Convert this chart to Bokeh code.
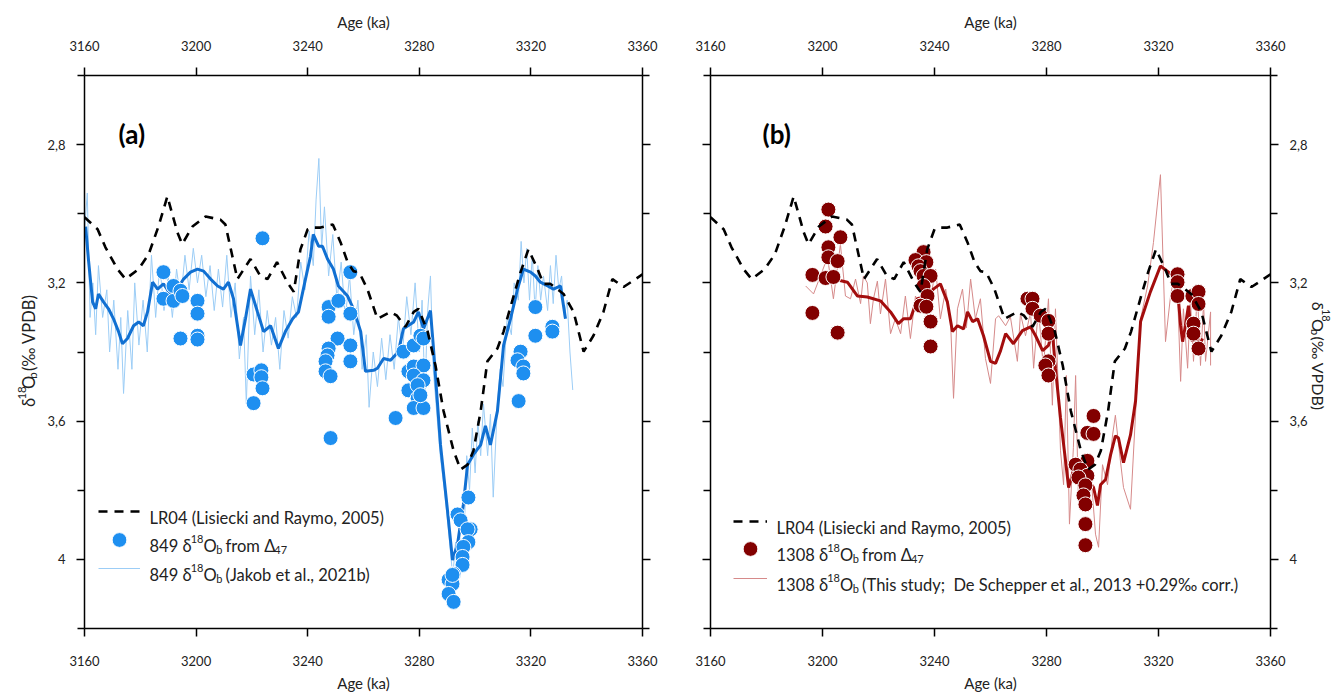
import math
from bokeh.plotting import figure
from bokeh.models import (Range1d, LinearAxis, FixedTicker, CustomJSTickFormatter,
                          Label, Legend, LegendItem)
from bokeh.layouts import row
from bokeh.embed import file_html
from bokeh.resources import INLINE

# ---------------- data ----------------
lr04_age = [3160.0, 3164.7, 3167.5, 3171.8, 3174.7, 3179.4, 3183.0, 3186.5, 3189.7, 3193.3,
            3195.0, 3198.7, 3203.4, 3208.7, 3210.5, 3213.0, 3214.8, 3219.5, 3223.0, 3225.6,
            3229.0, 3232.8, 3235.0, 3237.4, 3240.0, 3242.0, 3244.6, 3249.0, 3251.8, 3254.3,
            3256.4, 3258.5, 3261.4, 3265.0, 3269.7, 3272.0, 3275.0, 3278.0, 3279.7, 3283.0,
            3285.8, 3288.7, 3292.3, 3294.8, 3297.3, 3299.4, 3302.0, 3304.4, 3308.0, 3310.2,
            3313.8, 3316.3, 3319.1, 3322.4, 3324.5, 3327.0, 3331.7, 3335.3, 3338.9, 3342.4,
            3346.0, 3349.2, 3353.2, 3357.5, 3360.0]
lr04_d18o = [3.01, 3.045, 3.097, 3.16, 3.189, 3.16, 3.117, 3.037, 2.95, 3.054,
             3.088, 3.037, 3.008, 3.017, 3.031, 3.123, 3.189, 3.131, 3.18, 3.189,
             3.14, 3.2, 3.226, 3.103, 3.045, 3.04, 3.04, 3.031, 3.083, 3.14,
             3.166, 3.17, 3.218, 3.304, 3.284, 3.295, 3.327, 3.284, 3.275, 3.341,
             3.439, 3.571, 3.686, 3.74, 3.726, 3.686, 3.571, 3.427, 3.39, 3.341,
             3.238, 3.169, 3.103, 3.16, 3.203, 3.203, 3.232, 3.284, 3.399, 3.353,
             3.284, 3.189, 3.212, 3.189, 3.175]

# Site 849 benthic record (Jakob et al., 2021b), thin line
s849_age = [3160.0, 3161.0, 3162.0, 3163.0, 3164.0, 3165.0, 3166.5, 3168.0, 3169.0, 3170.5,
            3172.0, 3173.0, 3174.0, 3175.5, 3177.0, 3178.0, 3179.5, 3181.0, 3182.5, 3184.0,
            3185.5, 3187.0, 3188.5, 3190.0, 3191.5, 3193.0, 3194.5, 3196.0, 3197.5, 3199.0,
            3200.5, 3202.0, 3203.5, 3205.0, 3206.5, 3208.0, 3209.5, 3211.0, 3212.5, 3214.0,
            3215.5, 3217.0, 3218.0, 3219.5, 3221.0, 3222.5, 3224.0, 3225.5, 3227.0, 3228.5,
            3230.0, 3231.5, 3233.0, 3234.5, 3236.0, 3237.5, 3239.0, 3240.5, 3242.0, 3243.0,
            3244.0, 3245.0, 3246.0, 3247.5, 3249.0, 3250.5, 3252.0, 3253.5, 3255.0, 3256.5,
            3258.0, 3259.5, 3261.0, 3262.0, 3263.5, 3265.0, 3266.5, 3268.0, 3269.5, 3271.0,
            3272.5, 3274.0, 3275.5, 3277.0, 3278.5, 3280.0, 3281.0, 3282.0, 3283.0, 3284.0,
            3285.0, 3286.0, 3287.5, 3289.0, 3290.5, 3292.0, 3293.0, 3294.0, 3295.0, 3296.0,
            3297.0, 3298.0, 3299.0, 3300.0, 3301.0, 3302.0, 3303.0, 3304.5, 3305.5, 3306.5,
            3308.0, 3309.0, 3310.0, 3311.5, 3313.0, 3314.0, 3315.5, 3316.5, 3317.5, 3318.5,
            3319.5, 3320.5, 3321.5, 3322.5, 3323.5, 3324.5, 3326.0, 3327.0, 3328.0, 3329.0,
            3330.0, 3331.0, 3332.0, 3333.0, 3334.0, 3335.0]
s849_d18o = [3.05, 2.94, 3.30, 3.20, 3.35, 3.15, 3.30, 3.22, 3.40, 3.25,
             3.45, 3.30, 3.52, 3.28, 3.45, 3.20, 3.38, 3.25, 3.40, 3.12,
             3.30, 3.15, 3.28, 3.18, 3.30, 3.16, 3.25, 3.12, 3.22, 3.10,
             3.20, 3.12, 3.24, 3.15, 3.28, 3.16, 3.27, 3.12, 3.30, 3.20,
             3.42, 3.30, 3.55, 3.18, 3.35, 3.22, 3.40, 3.28, 3.38, 3.30,
             3.45, 3.28, 3.36, 3.24, 3.30, 3.14, 3.22, 3.05, 3.15, 2.96,
             2.84, 3.10, 2.98, 3.18, 3.06, 3.25, 3.14, 3.30, 3.18, 3.35,
             3.25, 3.45, 3.35, 3.56, 3.40, 3.50, 3.36, 3.48, 3.35, 3.45,
             3.30, 3.40, 3.24, 3.35, 3.20, 3.40, 3.25, 3.52, 3.28, 3.18,
             3.45, 3.55, 3.70, 3.80, 3.92, 4.05, 3.95, 4.05, 3.85, 3.95,
             3.70, 3.80, 3.62, 3.75, 3.60, 3.70, 3.55, 3.70, 3.58, 3.82,
             3.55, 3.45, 3.50, 3.30, 3.35, 3.20, 3.25, 3.08, 3.20, 3.10,
             3.25, 3.12, 3.28, 3.15, 3.25, 3.18, 3.28, 3.15, 3.26, 3.12,
             3.22, 3.18, 3.30, 3.25, 3.40, 3.51]

# Site 849 smoothed record, thick line
s849s_age = [3160.4, 3161.4, 3162.9, 3164.0, 3165.0, 3166.8, 3168.6, 3170.4, 3172.2, 3173.6,
             3175.4, 3177.6, 3179.4, 3181.1, 3182.6, 3184.4, 3186.2, 3188.3, 3190.8, 3193.3,
             3195.5, 3198.0, 3200.5, 3202.7, 3205.2, 3207.7, 3209.8, 3211.6, 3213.4, 3215.9,
             3217.7, 3219.5, 3222.0, 3224.2, 3226.7, 3229.5, 3232.0, 3234.6, 3236.7, 3239.2,
             3241.0, 3242.0, 3243.9, 3245.3, 3247.1, 3249.2, 3251.0, 3254.3, 3256.4, 3259.0,
             3260.7, 3263.6, 3265.0, 3267.2, 3269.7, 3272.5, 3274.3, 3278.0, 3279.7, 3281.5,
             3284.0, 3285.0, 3287.6, 3290.1, 3291.9, 3293.7, 3295.8, 3297.3, 3299.4, 3302.0,
             3303.7, 3305.5, 3308.0, 3310.2, 3312.7, 3315.2, 3317.3, 3319.9, 3321.6, 3323.4,
             3326.0, 3328.1, 3330.6, 3332.4]
s849s_d18o = [3.037, 3.131, 3.255, 3.275, 3.232, 3.255, 3.275, 3.304, 3.341, 3.376,
              3.361, 3.324, 3.313, 3.324, 3.284, 3.198, 3.218, 3.203, 3.232, 3.218,
              3.189, 3.169, 3.16, 3.166, 3.189, 3.209, 3.218, 3.198, 3.246, 3.381,
              3.304, 3.218, 3.284, 3.341, 3.324, 3.39, 3.341, 3.304, 3.284, 3.189,
              3.123, 3.06, 3.094, 3.094, 3.131, 3.16, 3.209, 3.238, 3.275, 3.341,
              3.456, 3.453, 3.447, 3.419, 3.424, 3.399, 3.333, 3.313, 3.284, 3.333,
              3.28, 3.381, 3.669, 3.858, 4.002, 3.956, 3.841, 3.726, 3.697, 3.669,
              3.614, 3.669, 3.571, 3.381, 3.304, 3.218, 3.16, 3.169, 3.18, 3.198,
              3.209, 3.218, 3.209, 3.304]

# Site 849 d18Ob from clumped isotopes (dots)
d849_age = [3188.3, 3188.3, 3191.9, 3191.9, 3194.4, 3195.1, 3194.4, 3200.5, 3200.5, 3200.5,
            3200.5, 3223.8, 3220.6, 3220.6, 3223.4, 3223.4, 3223.8, 3247.5, 3247.5, 3251.0,
            3250.7, 3247.5, 3247.1, 3246.4, 3246.4, 3248.2, 3255.3, 3255.3, 3255.3, 3255.3,
            3248.2, 3274.3, 3271.5, 3278.0, 3280.4, 3281.5, 3276.1, 3278.0, 3281.5, 3278.0,
            3281.5, 3276.1, 3279.4, 3279.4, 3278.0, 3281.5, 3280.4, 3297.6, 3293.7, 3294.8,
            3298.4, 3297.3, 3297.6, 3295.8, 3295.5, 3295.5, 3292.3, 3290.5, 3291.9, 3290.5,
            3292.3, 3291.9, 3316.3, 3315.2, 3317.3, 3317.3, 3315.6, 3321.6, 3321.6, 3327.7,
            3327.7]
d849_d18o = [3.169, 3.246, 3.209, 3.252, 3.223, 3.238, 3.361, 3.252, 3.289, 3.353,
             3.364, 3.071, 3.465, 3.548, 3.453, 3.473, 3.505, 3.27, 3.298, 3.252,
             3.361, 3.39, 3.41, 3.427, 3.456, 3.47, 3.169, 3.289, 3.381, 3.427,
             3.649, 3.399, 3.591, 3.381, 3.353, 3.361, 3.456, 3.442, 3.439, 3.468,
             3.482, 3.511, 3.496, 3.534, 3.562, 3.562, 3.525, 3.821, 3.87, 3.887,
             3.913, 3.913, 3.95, 3.964, 3.993, 4.016, 4.042, 4.059, 4.071, 4.10,
             4.123, 4.045, 3.399, 3.424, 3.442, 3.462, 3.542, 3.27, 3.353, 3.327,
             3.341]

# Site 1308 benthic record (thin line)
s1308_age = [3194.0, 3196.8, 3201.8, 3203.9, 3206.4, 3208.2, 3210.0, 3211.8, 3213.6, 3214.6,
             3216.0, 3217.1, 3218.2, 3219.6, 3220.7, 3222.5, 3224.3, 3226.0, 3227.9, 3229.6,
             3231.4, 3233.2, 3235.0, 3236.8, 3238.6, 3240.4, 3242.1, 3244.0, 3245.7, 3246.8,
             3248.2, 3250.0, 3251.4, 3252.9, 3254.6, 3256.4, 3258.2, 3260.0, 3261.8, 3262.9,
             3265.4, 3267.1, 3269.6, 3270.7, 3272.5, 3274.3, 3275.4, 3277.1, 3278.9, 3280.7,
             3282.1, 3283.2, 3285.0, 3286.1, 3287.1, 3288.2, 3289.6, 3290.4, 3291.4, 3292.9,
             3293.9, 3295.7, 3297.5, 3298.6, 3300.0, 3301.8, 3303.6, 3304.6, 3306.4, 3307.5,
             3310.0, 3313.6, 3316.1, 3318.2, 3320.7, 3322.5, 3324.3, 3325.4, 3326.8, 3327.9,
             3328.9, 3330.4, 3331.4, 3332.5, 3333.9, 3335.0, 3336.1, 3336.8, 3338.6, 3338.6]
s1308_d18o = [3.209, 3.232, 3.126, 3.246, 3.088, 3.238, 3.246, 3.189, 3.26, 3.18,
              3.20, 3.318, 3.246, 3.195, 3.29, 3.189, 3.347, 3.304, 3.347, 3.238,
              3.361, 3.238, 3.275, 3.218, 3.246, 3.16, 3.304, 3.218, 3.304, 3.534,
              3.275, 3.218, 3.33, 3.189, 3.304, 3.246, 3.419, 3.491, 3.304, 3.295,
              3.324, 3.298, 3.427, 3.289, 3.353, 3.284, 3.447, 3.275, 3.447, 3.246,
              3.554, 3.275, 3.686, 3.784, 3.468, 3.898, 3.677, 3.468, 3.83, 3.697,
              3.83, 3.735, 3.927, 3.965, 3.726, 3.784, 3.64, 3.583, 3.715, 3.792,
              3.855, 3.304, 3.209, 3.083, 2.887, 3.37, 3.238, 3.189, 3.226, 3.485,
              3.275, 3.447, 3.246, 3.427, 3.226, 3.439, 3.255, 3.427, 3.284, 3.439]

# Site 1308 smoothed record (thick line)
s1308s_age = [3203.9, 3208.9, 3212.5, 3216.0, 3220.7, 3224.3, 3227.1, 3228.9, 3231.4, 3233.9,
              3237.5, 3239.6, 3242.1, 3244.6, 3246.4, 3248.2, 3250.4, 3251.8, 3253.6, 3255.4,
              3257.5, 3260.0, 3261.8, 3263.6, 3265.4, 3268.2, 3271.4, 3274.3, 3276.1, 3278.6,
              3280.7, 3282.1, 3283.2, 3285.0, 3286.8, 3287.9, 3289.6, 3291.4, 3293.2, 3295.0,
              3296.8, 3298.2, 3299.3, 3301.1, 3302.9, 3304.6, 3305.7, 3307.5, 3310.0, 3311.8,
              3313.6, 3317.1, 3320.7, 3323.6, 3326.1, 3327.1, 3327.9, 3328.6, 3329.6, 3330.7,
              3332.1, 3333.2, 3334.3, 3335.7]
s1308s_d18o = [3.189, 3.198, 3.238, 3.241, 3.252, 3.284, 3.318, 3.304, 3.304, 3.246,
               3.238, 3.218, 3.203, 3.255, 3.341, 3.324, 3.333, 3.284, 3.312, 3.304,
               3.353, 3.427, 3.433, 3.396, 3.347, 3.376, 3.338, 3.327, 3.353, 3.396,
               3.381, 3.341, 3.447, 3.591, 3.715, 3.792, 3.743, 3.784, 3.755, 3.772,
               3.792, 3.844, 3.784, 3.769, 3.697, 3.643, 3.649, 3.72, 3.64, 3.542,
               3.312, 3.226, 3.151, 3.169, 3.183, 3.246, 3.324, 3.37, 3.324, 3.266,
               3.37, 3.333, 3.39, 3.361]

# Site 1308 d18Ob from clumped isotopes (dots)
d1308_age = [3202.1, 3201.1, 3206.4, 3202.1, 3202.1, 3205.4, 3196.4, 3201.1, 3203.9, 3196.4,
             3205.4, 3236.1, 3233.2, 3237.1, 3234.3, 3235.0, 3236.1, 3238.6, 3236.1, 3237.5,
             3235.0, 3237.1, 3238.6, 3238.6, 3273.2, 3275.0, 3275.0, 3277.9, 3280.7, 3280.7,
             3280.7, 3279.6, 3280.7, 3296.8, 3294.6, 3296.8, 3294.6, 3290.4, 3292.1, 3294.6,
             3291.4, 3293.9, 3293.2, 3293.9, 3293.9, 3293.9, 3326.8, 3326.8, 3326.8, 3332.1,
             3334.3, 3334.3, 3332.5, 3332.5, 3334.3]
d1308_d18o = [2.988, 3.037, 3.068, 3.097, 3.126, 3.137, 3.177, 3.186, 3.183, 3.287,
              3.344, 3.111, 3.134, 3.14, 3.152, 3.166, 3.18, 3.18, 3.209, 3.238,
              3.266, 3.269, 3.312, 3.384, 3.246, 3.246, 3.275, 3.295, 3.31, 3.347,
              3.427, 3.439, 3.468, 3.585, 3.634, 3.637, 3.715, 3.726, 3.74, 3.758,
              3.763, 3.786, 3.815, 3.841, 3.898, 3.959, 3.175, 3.198, 3.238, 3.238,
              3.226, 3.261, 3.318, 3.347, 3.39]

x_ticks = [3160, 3200, 3240, 3280, 3320, 3360]
y_major = [2.8, 3.2, 3.6, 4.0]
y_minor = [2.6, 3.0, 3.4, 3.8, 4.2]

# ---------------- styling / layout ----------------
FONT = "Lato"
X0, X1 = 3160, 3360
Y_TOP, Y_BOT = 2.6, 4.2
FH = 557
TOP_B, BOT_B = 75, 62
H = TOP_B + FH + BOT_B
LA_W = 40              # left strip holding the rotated y title
FW_A, LB_A, RB_A = 558, 44, 34
FW_B, LB_B, RB_B = 560, 34, 40
LB_W = 26              # right strip holding the rotated y title
A_LEFT = LA_W + LB_A
B_LEFT = LA_W + LB_A + FW_A + RB_A + LB_B
RSTRIP = B_LEFT + FW_B + RB_B

LEG = 16.5   # legend font size
SUB = 11     # sub / superscript size

W = {' ': 0.193, '\u00a0': 0.193, '(': 0.29, ')': 0.29, ',': 0.22, '.': 0.22, ';': 0.24,
     '+': 0.58, '‰': 1.15, '%': 0.8, 'δ': 0.56, 'Δ': 0.68,
     'a': 0.49, 'b': 0.555, 'c': 0.465, 'd': 0.555, 'e': 0.52, 'f': 0.32, 'g': 0.5,
     'h': 0.555, 'i': 0.24, 'j': 0.24, 'k': 0.5, 'l': 0.24, 'm': 0.84, 'n': 0.555,
     'o': 0.555, 'p': 0.555, 'r': 0.37, 's': 0.42, 't': 0.35, 'u': 0.555, 'v': 0.5,
     'w': 0.77, 'x': 0.48, 'y': 0.5, 'z': 0.45,
     'A': 0.68, 'B': 0.63, 'C': 0.68, 'D': 0.74, 'E': 0.55, 'J': 0.38, 'L': 0.48,
     'O': 0.78, 'P': 0.6, 'R': 0.62, 'S': 0.52, 'T': 0.58, 'V': 0.68}
for _d in "0123456789":
    W[_d] = 0.58


def tw(s, size):
    return sum(W.get(c, 0.52) for c in s) * size


def ytick_fmt():
    return CustomJSTickFormatter(code="""
        const s = tick.toFixed(1).replace('.', ',');
        return s.endsWith(',0') ? s.slice(0, -2) : s;
    """)


def blank_fmt():
    return CustomJSTickFormatter(code="return '';")


def style_axis(ax):
    ax.axis_line_color = "black"
    ax.axis_line_width = 1.5
    ax.major_tick_line_color = "black"
    ax.minor_tick_line_color = "black"
    ax.major_tick_line_width = 1.5
    ax.minor_tick_line_width = 1.5
    ax.major_tick_in = 0
    ax.minor_tick_in = 0
    ax.major_tick_out = 8
    ax.minor_tick_out = 7
    ax.major_label_text_font = FONT
    ax.major_label_text_font_size = "13px"
    ax.major_label_text_color = "#222222"
    ax.axis_label_text_font = FONT
    ax.axis_label_text_font_size = "15px"
    ax.axis_label_text_font_style = "normal"
    ax.axis_label_text_color = "#222222"


def make_panel(fw, left_b, right_b, ylabel_side):
    p = figure(width=left_b + fw + right_b, height=H,
               x_range=Range1d(X0, X1), y_range=Range1d(Y_BOT, Y_TOP),
               output_backend="svg", toolbar_location=None, tools="",
               min_border_left=left_b, min_border_right=right_b,
               min_border_top=TOP_B, min_border_bottom=BOT_B,
               x_axis_location="below", y_axis_location="left")
    p.xgrid.visible = False
    p.ygrid.visible = False
    p.outline_line_color = None
    p.background_fill_color = "white"
    p.border_fill_color = "white"

    bx = p.xaxis[0]
    bx.ticker = FixedTicker(ticks=x_ticks, minor_ticks=[])
    bx.axis_label = "Age (ka)"
    style_axis(bx)
    bx.major_label_standoff = 19
    bx.axis_label_standoff = 5

    tx = LinearAxis(ticker=FixedTicker(ticks=x_ticks, minor_ticks=[]), axis_label="Age (ka)")
    style_axis(tx)
    tx.major_label_standoff = 17
    tx.axis_label_standoff = 7
    p.add_layout(tx, "above")

    ly = p.yaxis[0]
    ly.ticker = FixedTicker(ticks=y_major, minor_ticks=y_minor)
    style_axis(ly)
    ly.major_label_standoff = 11
    ry = LinearAxis(ticker=FixedTicker(ticks=y_major, minor_ticks=y_minor))
    style_axis(ry)
    ry.major_label_standoff = 11
    p.add_layout(ry, "right")
    if ylabel_side == "left":
        ly.formatter = ytick_fmt()
        ry.formatter = blank_fmt()
    else:
        ly.formatter = blank_fmt()
        ry.formatter = ytick_fmt()
    return p


def strip(width):
    s = figure(width=width, height=H, x_range=Range1d(0, width), y_range=Range1d(H, 0),
               output_backend="svg", toolbar_location=None, tools="",
               min_border_left=0, min_border_right=0, min_border_top=0,
               min_border_bottom=0, x_axis_type=None, y_axis_type=None)
    s.xgrid.visible = False
    s.ygrid.visible = False
    s.outline_line_color = None
    s.background_fill_color = "white"
    s.border_fill_color = "white"
    return s


class Geo:
    """page pixel -> data coordinate for a panel frame"""
    def __init__(self, left_px, fw):
        self.left = left_px
        self.sx = fw / (X1 - X0)
        self.sy = FH / (Y_BOT - Y_TOP)

    def x(self, px):
        return X0 + (px - self.left) / self.sx

    def y(self, py):
        return Y_TOP + (py - TOP_B) / self.sy


class StripGeo:
    def __init__(self, left_px):
        self.left = left_px

    def x(self, px):
        return px - self.left

    def y(self, py):
        return py


def rich(p, g, runs, px, py, angle=0.0, color="#222222"):
    """runs: (text, size, raise_px). px,py: page px of baseline start."""
    pos = 0.0
    for text, size, rz in runs:
        lead = len(text) - len(text.lstrip(" "))
        pos += tw(text[:lead], size)
        body = text.strip(" ")
        if angle == 0.0:
            lx, ly = px + pos, py - rz
        elif angle > 0:
            lx, ly = px - rz, py - pos
        else:
            lx, ly = px + rz, py + pos
        p.add_layout(Label(x=g.x(lx), y=g.y(ly), text=body, angle=angle,
                           text_font=FONT, text_font_size=f"{size}px",
                           text_color=color, text_align="left",
                           text_baseline="alphabetic"))
        pos += tw(text[lead:], size)


def d18o_runs(prefix, suffix, fs=LEG, ss=SUB):
    return [(prefix + "δ", fs, 0), ("18", ss, 7), ("O", fs, 0), ("b", ss, -3.5)] + suffix


def key(p, renderer, x, y, gw, gh):
    p.add_layout(Legend(items=[LegendItem(label=" ", renderers=[renderer])],
                        location=(x, y), glyph_width=gw, glyph_height=gh,
                        label_height=gh, label_width=1, label_standoff=0,
                        padding=0, margin=0, spacing=0, border_line_color=None,
                        background_fill_alpha=0, label_text_font_size="6px"))


BLUE_DOT = "#1e8ff0"
BLUE_THICK = "#1170d2"
BLUE_THIN = "#9ccdf6"
RED_DOT = "#820000"
RED_THICK = "#a30d0d"
RED_THIN = "#d68a8a"
BOTTOM = TOP_B + FH

# ---------------- panel (a) ----------------
pa = make_panel(FW_A, LB_A, RB_A, "left")
ga = Geo(A_LEFT, FW_A)

a_thin = pa.line(s849_age, s849_d18o, line_color=BLUE_THIN, line_width=1)
a_thick = pa.line(s849s_age, s849s_d18o, line_color=BLUE_THICK, line_width=3)
a_dots = pa.scatter(d849_age, d849_d18o, size=15, fill_color=BLUE_DOT,
                    line_color="white", line_width=1)
a_lr = pa.line(lr04_age, lr04_d18o, line_color="black", line_width=2.6, line_dash="9 7")

key(pa, a_lr, 14, BOTTOM - 525, 42, 20)
key(pa, a_dots, 14, int(BOTTOM - 561.5), 42, 37)
key(pa, a_thin, 14, BOTTOM - 582, 42, 20)

rich(pa, ga, [("LR04 (Lisiecki and Raymo, 2005)", LEG, 0)], 149, 521)
rich(pa, ga, d18o_runs("849 ", [(" from Δ", LEG, 0), ("47", SUB, -3.5)]), 149, 549)
rich(pa, ga, d18o_runs("849 ", [(" (Jakob et al., 2021b)", LEG, 0)]), 149, 578)

pa.add_layout(Label(x=ga.x(118), y=ga.y(134), text="(a)", text_font=FONT,
                    text_font_size="26px", text_font_style="bold", text_color="black",
                    text_baseline="middle", text_align="left"))

# left strip: rotated y title
la = strip(LA_W)
rich(la, StripGeo(0), d18o_runs("", [(" (‰ VPDB)", 16.5, 0)], fs=16.5, ss=11.5), 28, 416,
     angle=math.pi / 2)

# ---------------- panel (b) ----------------
pb = make_panel(FW_B, LB_B, RB_B, "right")
gb = Geo(B_LEFT, FW_B)

b_thin = pb.line(s1308_age, s1308_d18o, line_color=RED_THIN, line_width=1)
b_thick = pb.line(s1308s_age, s1308s_d18o, line_color=RED_THICK, line_width=3)
b_dots = pb.scatter(d1308_age, d1308_d18o, size=15, fill_color=RED_DOT,
                    line_color="white", line_width=1)
b_lr = pb.line(lr04_age, lr04_d18o, line_color="black", line_width=2.6, line_dash="9 7")

key(pb, b_lr, 23, BOTTOM - 535, 34, 20)
key(pb, b_dots, 21, int(BOTTOM - 570.5), 38, 37)
key(pb, b_thin, 23, BOTTOM - 592, 34, 20)

rich(pb, gb, [("LR04 (Lisiecki and Raymo, 2005)", LEG, 0)], 776, 531)
rich(pb, gb, d18o_runs("1308 ", [(" from Δ", LEG, 0), ("47", SUB, -3.5)]), 776, 558)
rich(pb, gb, d18o_runs("1308 ", [(" (This study;\u00a0 De Schepper et al., 2013 +0.29‰ corr.)",
                                  LEG, 0)]), 776, 588)

pb.add_layout(Label(x=gb.x(762), y=gb.y(134), text="(b)", text_font=FONT,
                    text_font_size="26px", text_font_style="bold", text_color="black",
                    text_baseline="middle", text_align="left"))

# right strip: rotated y title reading downward
lb = strip(LB_W)
rich(lb, StripGeo(RSTRIP), d18o_runs("", [(" (‰ VPDB)", 16, 0)], fs=16, ss=11),
     RSTRIP + 8, 284, angle=-math.pi / 2)

layout = row(la, pa, pb, lb)
open("out.html", "w").write(file_html(layout, INLINE))
